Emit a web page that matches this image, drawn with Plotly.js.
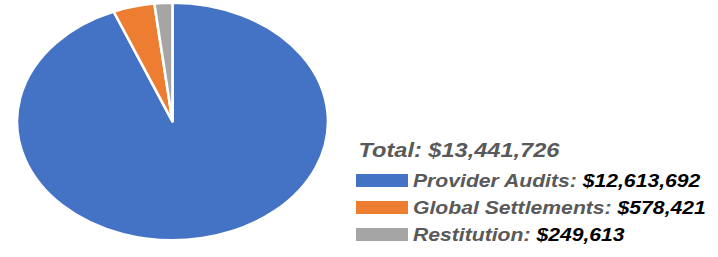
<!DOCTYPE html>
<html>
<head>
<meta charset="utf-8">
<script src="https://cdn.plot.ly/plotly-3.0.1.min.js"></script>
<style>
  html, body { margin: 0; padding: 0; background: #fff; }
  #wrap { position: relative; width: 718px; height: 257px; overflow: hidden; }
  #pie { position: absolute; left: 54px; top: 3px; width: 237px; height: 237px;
         transform: scaleX(1.312); transform-origin: 50% 50%; }
  #legend { position: absolute; left: 0; top: 0; width: 718px; height: 257px;
            transform: scaleX(1.21); transform-origin: 356px 0; }
</style>
</head>
<body>
<div id="wrap">
  <div id="pie"></div>
  <div id="legend"></div>
</div>
<script>
// Data
const categories = ["Provider Audits", "Global Settlements", "Restitution"];
const values = [12613692, 578421, 249613];
const colors = ["#4472C4", "#ED7D31", "#A5A5A5"];
const totalLabel = "Total";
const totalValue = 13441726;

function fmt(v) { return "$" + v.toLocaleString("en-US"); }

Plotly.newPlot("pie", [{
  type: "pie",
  labels: categories,
  values: values,
  sort: false,
  direction: "clockwise",
  rotation: 0,
  textinfo: "none",
  hoverinfo: "none",
  marker: { colors: colors, line: { color: "#ffffff", width: 2 } },
  domain: { x: [0, 1], y: [0, 1] }
}], {
  width: 237, height: 237,
  margin: { l: 0, r: 0, t: 0, b: 0, pad: 0 },
  showlegend: false,
  paper_bgcolor: "rgba(0,0,0,0)"
}, { staticPlot: true, displayModeBar: false });

// Legend overlay (drawn in a horizontally stretched layer)
const SX = 1.21;
const fontFam = "Liberation Sans, Arial, sans-serif";
const annotations = [];
const shapes = [];
annotations.push({
  x: 356, y: 150, xref: "x", yref: "y", xanchor: "left", yanchor: "middle",
  showarrow: false,
  text: "<b><i>" + totalLabel + ": " + fmt(totalValue) + "</i></b>",
  font: { family: fontFam, size: 19.5, color: "#595959" }
});
const rowY = [180.5, 207.5, 234.5];
categories.forEach((c, i) => {
  shapes.push({
    type: "rect", xref: "x", yref: "y",
    x0: 356, x1: 356 + 52 / SX, y0: rowY[i] - 6.5, y1: rowY[i] + 6.5,
    fillcolor: colors[i], line: { width: 0 }
  });
  annotations.push({
    x: 356 + 55 / SX, y: rowY[i], xref: "x", yref: "y", xanchor: "left", yanchor: "middle",
    showarrow: false,
    text: "<b><i><span style='color:#595959'>" + c + ":</span> <span style='color:#000000'>" + fmt(values[i]) + "</span></i></b>",
    font: { family: fontFam, size: 17.5, color: "#595959" }
  });
});

Plotly.newPlot("legend", [], {
  width: 718, height: 257,
  margin: { l: 0, r: 0, t: 0, b: 0, pad: 0 },
  paper_bgcolor: "rgba(0,0,0,0)",
  plot_bgcolor: "rgba(0,0,0,0)",
  xaxis: { range: [0, 718], visible: false, fixedrange: true },
  yaxis: { range: [257, 0], visible: false, fixedrange: true },
  showlegend: false,
  shapes: shapes,
  annotations: annotations
}, { staticPlot: true, displayModeBar: false });
</script>
</body>
</html>
